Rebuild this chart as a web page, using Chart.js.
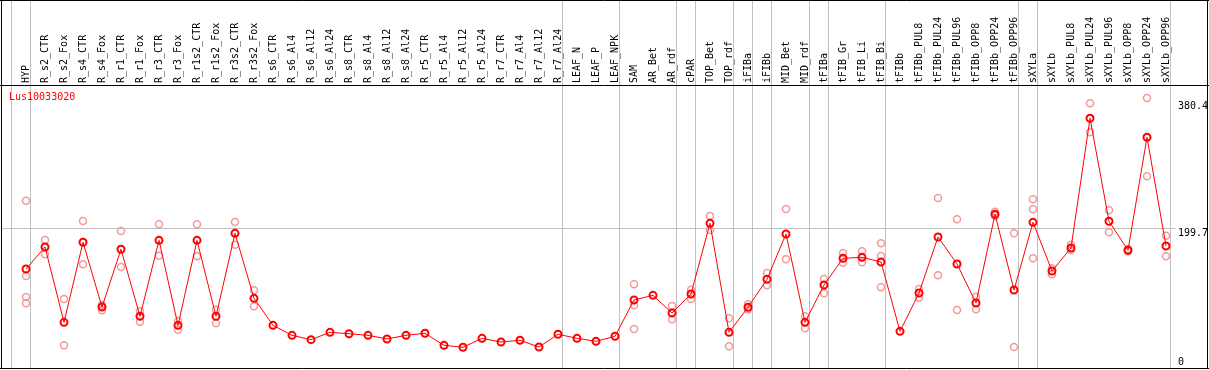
<!DOCTYPE html>
<html>
<head>
<meta charset="utf-8">
<script src="https://cdn.jsdelivr.net/npm/chart.js@4.4.1/dist/chart.umd.min.js"></script>
<style>
    html, body { margin: 0; padding: 0; background: #fff; }
    canvas { display: block; }
</style>
</head>
<body>
<canvas id="expr" width="1209" height="370"></canvas>
<script>
const geneName = 'Lus10033020';

const labels = [
    'HYP',
    'R_s2_CTR', 'R_s2_Fox', 'R_s4_CTR', 'R_s4_Fox', 'R_r1_CTR', 'R_r1_Fox', 'R_r3_CTR', 'R_r3_Fox',
    'R_r1s2_CTR', 'R_r1s2_Fox', 'R_r3s2_CTR', 'R_r3s2_Fox',
    'R_s6_CTR', 'R_s6_Al4', 'R_s6_Al12', 'R_s6_Al24', 'R_s8_CTR', 'R_s8_Al4', 'R_s8_Al12', 'R_s8_Al24',
    'R_r5_CTR', 'R_r5_Al4', 'R_r5_Al12', 'R_r5_Al24', 'R_r7_CTR', 'R_r7_Al4', 'R_r7_Al12', 'R_r7_Al24',
    'LEAF_N', 'LEAF_P', 'LEAF_NPK',
    'SAM', 'AR_Bet', 'AR_rdf',
    'cPAR',
    'TOP_Bet', 'TOP_rdf',
    'iFIBa',
    'iFIBb',
    'MID_Bet', 'MID_rdf',
    'tFIBa',
    'tFIB_Gr', 'tFIB_Li', 'tFIB_Bi',
    'tFIBb', 'tFIBb_PUL8', 'tFIBb_PUL24', 'tFIBb_PUL96', 'tFIBb_OPP8', 'tFIBb_OPP24', 'tFIBb_OPP96',
    'sXYLa',
    'sXYLb', 'sXYLb_PUL8', 'sXYLb_PUL24', 'sXYLb_PUL96', 'sXYLb_OPP8', 'sXYLb_OPP24', 'sXYLb_OPP96'
];

// number of samples in each tissue group (separated by grey lines)
const groupSizes = [1, 28, 3, 3, 1, 2, 1, 1, 2, 1, 3, 7, 1, 7];

// mean expression per sample
const meanValues = [
    141.5,
    173.0, 65.3, 179.7, 87.2, 169.7, 73.9, 182.5, 61.0,
    182.5, 73.9, 192.5, 99.6,
    61.0, 46.7, 40.5, 51.0, 49.0, 46.7, 41.5, 46.7,
    49.6, 32.4, 29.6, 42.4, 37.2, 39.6, 30.0, 48.2,
    42.4, 38.1, 45.3,
    97.2, 103.9, 78.6,
    105.8,
    206.8, 51.0,
    86.8,
    126.8,
    191.6, 65.3,
    118.7,
    156.8, 158.2, 151.5,
    52.4, 107.2, 187.3, 148.7, 92.9, 219.7, 111.5,
    208.2,
    138.7, 171.5, 357.0, 209.7, 168.3, 329.8, 174.4
];

// individual replicates per sample
const replicateValues = [
    [239.0, 131.5, 101.5, 92.5],
    [183.0, 162.5], [98.6, 32.4], [210.0, 148.2], [90.0, 82.5], [195.9, 144.4], [81.0, 66.2], [205.4, 160.6], [67.2, 54.8],
    [205.4, 159.7], [83.4, 63.9], [208.7, 176.3], [111.0, 88.2],
    [], [], [], [], [], [], [], [],
    [], [], [], [], [], [], [], [],
    [], [], [],
    [119.6, 89.6, 55.8], [], [88.6, 69.6],
    [112.0, 98.6],
    [217.3, 197.3], [71.0, 31.0],
    [91.0, 83.9],
    [135.8, 118.2],
    [227.3, 155.4], [73.9, 56.7],
    [127.2, 106.7],
    [164.4, 150.6], [166.8, 151.1], [178.3, 160.1, 115.4],
    [], [112.9, 100.5], [243.0, 132.5], [212.6, 82.9], [102.0, 83.9], [223.5, 217.3], [192.5, 30.0],
    [241.1, 226.8, 156.8],
    [142.5, 133.9], [176.3, 168.7], [378.4, 337.0], [225.4, 194.0], [170.0, 167.0], [386.0, 274.0], [189.1, 159.7]
];

const yTicks = [0, 199.7, 380.4];
const yMax = 404.5;

const replicatePoints = [];
replicateValues.forEach((reps, i) => {
    reps.forEach(v => replicatePoints.push({ x: labels[i], y: v }));
});

const FONT = 'DejaVu Sans Mono';

const decor = {
    id: 'decor',
    beforeDatasetsDraw(chart) {
        const { ctx, chartArea, scales: { x, y } } = chart;
        ctx.save();
        ctx.strokeStyle = '#c0c0c0';
        ctx.lineWidth = 1;

        // horizontal line at the middle tick
        const gy = Math.floor(y.getPixelForValue(yTicks[1])) + 0.5;
        ctx.beginPath();
        ctx.moveTo(2, gy);
        ctx.lineTo(chartArea.right, gy);
        ctx.stroke();

        // group separators
        const band = x.getPixelForValue(1) - x.getPixelForValue(0);
        const seps = [-1];
        let idx = -1;
        groupSizes.forEach(n => { idx += n; seps.push(idx); });
        seps.forEach(i => {
            const sx = Math.floor(x.getPixelForValue(i) + band * 0.23) + 0.5;
            ctx.beginPath();
            ctx.moveTo(sx, 1);
            ctx.lineTo(sx, chartArea.bottom);
            ctx.stroke();
        });
        ctx.restore();
    },
    afterDraw(chart) {
        const { ctx, chartArea, scales: { y } } = chart;
        const W = chart.width;
        ctx.save();

        // frame + header line
        ctx.strokeStyle = '#000';
        ctx.lineWidth = 1;
        ctx.beginPath();
        ctx.moveTo(0, 0.5); ctx.lineTo(W, 0.5);
        ctx.moveTo(1.5, 0); ctx.lineTo(1.5, chartArea.bottom + 1);
        ctx.moveTo(W - 1.5, 0); ctx.lineTo(W - 1.5, chartArea.bottom + 1);
        ctx.moveTo(0, chartArea.bottom + 0.5); ctx.lineTo(W, chartArea.bottom + 0.5);
        ctx.moveTo(0, chartArea.top + 0.5); ctx.lineTo(W, chartArea.top + 0.5);
        ctx.stroke();

        // right axis labels
        ctx.font = '10px "' + FONT + '"';
        ctx.fillStyle = '#000';
        ctx.textAlign = 'left';
        yTicks.forEach(v => {
            const py = y.getPixelForValue(v);
            if (v === 0) {
                ctx.textBaseline = 'bottom';
                ctx.fillText(String(v), chartArea.right + 2.5, py - 1);
            } else {
                ctx.textBaseline = 'top';
                ctx.fillText(String(v), chartArea.right + 2.5, py);
            }
        });

        // gene name
        ctx.fillStyle = '#ff0000';
        ctx.textBaseline = 'top';
        ctx.fillText(geneName, 9, chartArea.top + 7);
        ctx.restore();
    }
};

new Chart(document.getElementById('expr'), {
    type: 'line',
    data: {
        labels: labels,
        datasets: [
            {
                label: 'mean',
                data: meanValues,
                borderColor: '#ff0000',
                borderWidth: 1,
                pointRadius: 3.5,
                pointBorderWidth: 2,
                pointBorderColor: '#ff0000',
                pointBackgroundColor: 'rgba(0,0,0,0)',
                tension: 0,
                order: 0,
            },
            {
                label: 'replicates',
                data: replicatePoints,
                showLine: false,
                pointRadius: 3.5,
                pointBorderWidth: 1.5,
                pointBorderColor: '#f29a9a',
                pointBackgroundColor: 'rgba(0,0,0,0)',
                order: 1,
            },
        ],
    },
    options: {
        responsive: false,
        animation: false,
        devicePixelRatio: 1,
        layout: { autoPadding: false, padding: { left: 16.5, right: 33.5, top: 0, bottom: 2 } },
        plugins: {
            legend: { display: false },
            tooltip: { enabled: false },
        },
        scales: {
            x: {
                type: 'category',
                position: 'top',
                offset: true,
                grid: { display: false, drawTicks: false },
                border: { display: false },
                ticks: {
                    autoSkip: false,
                    minRotation: 90,
                    maxRotation: 90,
                    padding: 2,
                    labelOffset: 12,
                    color: '#000',
                    font: { family: FONT, size: 10 },
                },
                afterFit(scale) { scale.height = 85; },
            },
            y: {
                display: false,
                min: 0,
                max: yMax,
            },
        },
    },
    plugins: [decor],
});
</script>
</body>
</html>
